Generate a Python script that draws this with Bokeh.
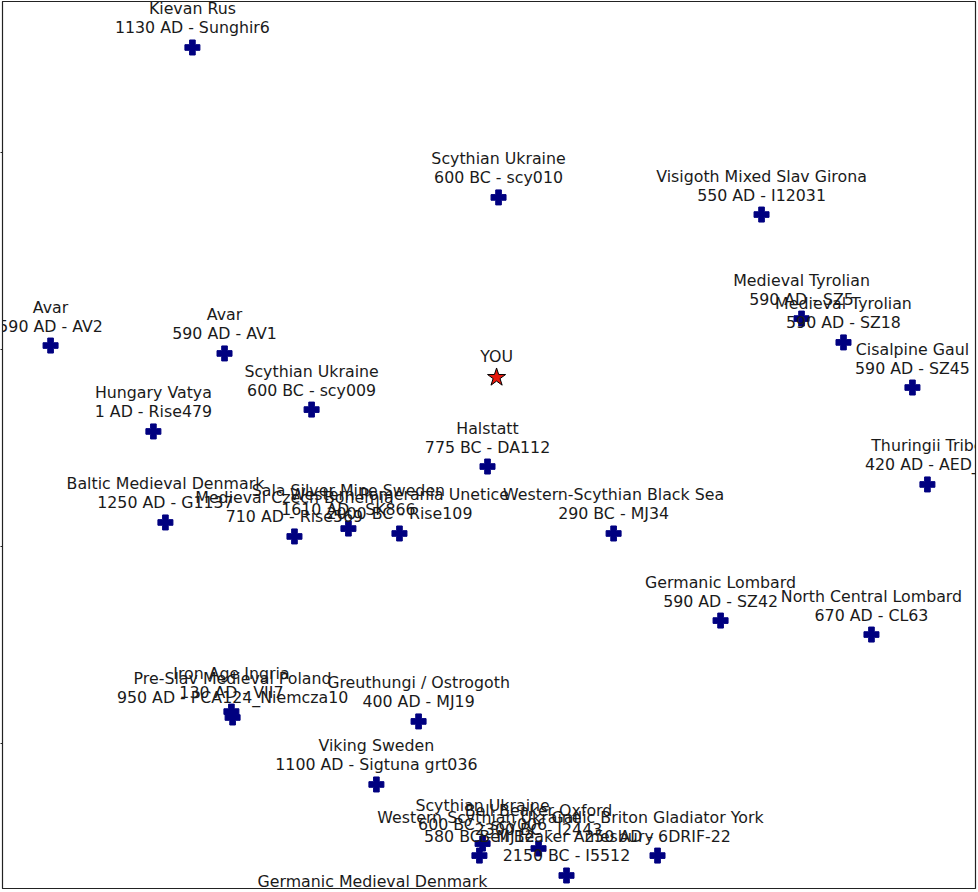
from bokeh.plotting import figure
from bokeh.models import ColumnDataSource, Range1d, FixedTicker
from bokeh.core.properties import value
from bokeh.embed import file_html
from bokeh.resources import INLINE

# ---- data (PCA-like coordinates) ----
names = [
    "Kievan Rus", "Scythian Ukraine", "Visigoth Mixed Slav Girona",
    "Medieval Tyrolian", "Medieval Tyrolian", "Cisalpine Gaul",
    "Avar", "Avar", "Scythian Ukraine", "Hungary Vatya", "Halstatt",
    "Thuringii Tribe", "Baltic Medieval Denmark", "Medieval Czech Bohemia",
    "Sala Silver Mine Sweden", "Western Pomerania Unetice",
    "Western-Scythian Black Sea", "Germanic Lombard", "North Central Lombard",
    "Iron Age Ingria", "Pre-Slav Medieval Poland", "Greuthungi / Ostrogoth",
    "Viking Sweden", "Scythian Ukraine", "Western Scythian Ukraine",
    "Bell Beaker Oxford", "Bell Beaker Amesbury",
    "Gallic Briton Gladiator York", "Germanic Medieval Denmark",
]
samples = [
    "1130 AD - Sunghir6", "600 BC - scy010", "550 AD - I12031",
    "590 AD - SZ5", "590 AD - SZ18", "590 AD - SZ45",
    "590 AD - AV2", "590 AD - AV1", "600 BC - scy009", "1 AD - Rise479",
    "775 BC - DA112", "420 AD - AED_1", "1250 AD - G1137",
    "710 AD - Rise569", "1610 AD - SK866", "2000 BC - Rise109",
    "290 BC - MJ34", "590 AD - SZ42", "670 AD - CL63",
    "130 AD - VII7", "950 AD - PCA124_Niemcza10", "400 AD - MJ19",
    "1100 AD - Sigtuna grt036", "600 BC - scy006", "580 BC - MJ12",
    "2300 BC - I2443", "2150 BC - I5512", "250 AD - 6DRIF-22", "",
]
pc1 = [0.964, 2.518, 3.853, 4.056, 4.269, 4.619, 0.244, 1.127, 1.569, 0.766,
       2.462, 4.695, 0.827, 1.482, 1.756, 2.015, 3.102, 3.645, 4.411, 1.162,
       1.168, 2.112, 1.898, 2.437, 2.421, 2.721, 2.863, 3.325, 1.878]
pc2 = [3.533, 2.772, 2.685, 2.157, 2.036, 1.807, 2.020, 1.980, 1.695, 1.584,
       1.406, 1.315, 1.122, 1.051, 1.091, 1.066, 1.066, 0.624, 0.553, 0.162,
       0.132, 0.112, -0.208, -0.508, -0.569, -0.533, -0.670, -0.569, -0.797]

you_label = ["YOU"]
you_pc1 = [2.508]
you_pc2 = [1.858]

y_ticks = [0, 1, 2, 3]

labels = [n + ("\n" + s if s else "") for n, s in zip(names, samples)]
src = ColumnDataSource(dict(x=pc1, y=pc2, label=labels))
you_src = ColumnDataSource(dict(x=you_pc1, y=you_pc2, label=you_label))

p = figure(width=977, height=890, output_backend="svg", toolbar_location=None,
           x_range=Range1d(0, 973 / 197), y_range=Range1d(-145 / 197, 742 / 197),
           x_axis_location=None, min_border_left=0, min_border_right=2,
           min_border_top=1, min_border_bottom=2)
p.grid.visible = False
p.outline_line_color = "#222222"
p.outline_line_width = 1.2
p.background_fill_color = "white"
p.border_fill_color = "white"

yax = p.yaxis[0]
yax.ticker = FixedTicker(ticks=y_ticks)
yax.major_label_overrides = {t: "" for t in y_ticks}
yax.major_label_standoff = 0
yax.major_tick_out = 2
yax.major_tick_in = 0
yax.minor_tick_line_color = None
yax.axis_line_color = "#222222"
yax.major_tick_line_color = "#222222"

p.scatter("x", "y", source=src, marker="plus", size=15,
          fill_color="navy", line_color="navy", line_width=1)
p.scatter("x", "y", source=you_src, marker="star", size=19,
          fill_color="#e8180c", line_color="black", line_width=1)

common = dict(text="label", text_align="center", text_baseline="bottom",
              text_font=value("DejaVu Sans"), text_font_size="15.8px",
              text_color="#1a1a1a", text_line_height=1.0)
p.text("x", "y", source=src, y_offset=-10, **common)
p.text("x", "y", source=you_src, y_offset=-11, **common)

open("out.html", "w").write(file_html(p, INLINE))
